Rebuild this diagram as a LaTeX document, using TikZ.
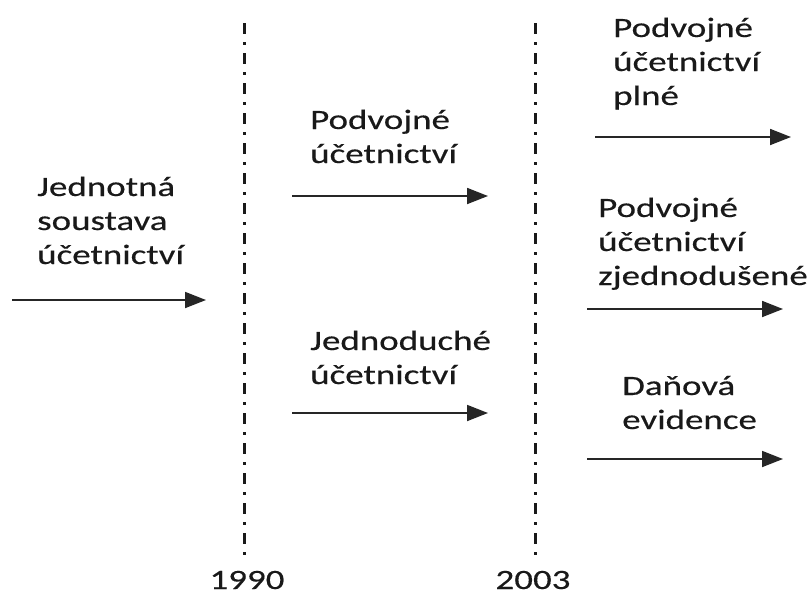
\documentclass[tikz,border=0pt]{standalone}
\usepackage{fontspec}
\setmainfont{Carlito}[FakeStretch=1.32,FakeBold=0.4]
\usetikzlibrary{arrows.meta}
\begin{document}
\begin{tikzpicture}[x=1pt,y=-1pt,
  lbl/.style={anchor=base west,inner sep=0pt,align=left,font=\fontsize{28}{34}\selectfont,text=black!90},
  yr/.style={anchor=base,inner sep=0pt,font=\fontsize{28}{34}\selectfont,text=black!90},
  flow/.style={line width=1.8pt,draw=black!85,-{Triangle[length=21pt,width=16pt]}},
  divider/.style={line width=3pt,draw=black!90,dash pattern=on 11pt off 8pt on 2.5pt off 8.5pt}]
\useasboundingbox (0,0) rectangle (812,598);
% dividers
\coordinate (v1t) at (244,23); \coordinate (v1b) at (244,562);
\coordinate (v2t) at (535,23); \coordinate (v2b) at (535,562);
\draw[divider] (v1t) -- (v1b);
\draw[divider] (v2t) -- (v2b);
\node[yr] (y1990) at (247,589) {1990};
\node[yr] (y2003) at (533,589) {2003};
% labels (anchored at the baseline of their last line)
\node[lbl] (jed) at (37,264) {Jednotná\\soustava\\účetnictví};
\node[lbl] (pod1) at (310,163) {Podvojné\\účetnictví};
\node[lbl] (jedn) at (310,384) {Jednoduché\\účetnictví};
\node[lbl] (pod2) at (613,105) {Podvojné\\účetnictví\\plné};
\node[lbl] (pod3) at (598,285) {Podvojné\\účetnictví\\zjednodušené};
\node[lbl] (dan) at (622,429) {Daňová\\evidence};
% arrows
\coordinate (a1s) at (12,300);  \coordinate (a1e) at (206,300);
\coordinate (a2s) at (292,196); \coordinate (a2e) at (488,196);
\coordinate (a3s) at (292,413); \coordinate (a3e) at (488,413);
\coordinate (a4s) at (595,137); \coordinate (a4e) at (791,137);
\coordinate (a5s) at (587,309); \coordinate (a5e) at (783,309);
\coordinate (a6s) at (587,459); \coordinate (a6e) at (783,459);
\draw[flow] (a1s) -- (a1e);
\draw[flow] (a2s) -- (a2e);
\draw[flow] (a3s) -- (a3e);
\draw[flow] (a4s) -- (a4e);
\draw[flow] (a5s) -- (a5e);
\draw[flow] (a6s) -- (a6e);
\end{tikzpicture}
\end{document}
